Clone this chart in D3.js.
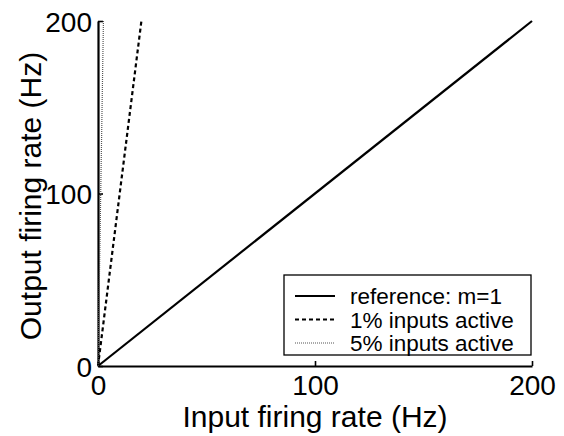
<!DOCTYPE html>
<html>
<head>
<meta charset="utf-8">
<script src="https://cdn.jsdelivr.net/npm/d3@7"></script>
<style>
  body { margin: 0; background: #fff; }
  svg { display: block; font-family: "Liberation Sans", Arial, sans-serif; }
</style>
</head>
<body>
<svg width="564" height="436"></svg>
<script>
// series: input rate (Hz) -> output rate (Hz)
const seriesNames = ['reference: m=1', '1% inputs active', '5% inputs active'];
const refInput = [0, 200];
const refOutput = [0, 200];
const onePctInput = [0, 20];
const onePctOutput = [0, 200];
const fivePctInput = [0, 2.5];
const fivePctOutput = [0, 200];
const xTicks = [0, 100, 200];
const yTicks = [0, 100, 200];

var svg = d3.select('svg');

var x = d3.scaleLinear().domain([0, 200]).range([98, 532]);
var y = d3.scaleLinear().domain([0, 200]).range([366, 21]);

var styles = [
  { width: 2.2, dash: null, color: '#000' },
  { width: 2.2, dash: '4,3', color: '#000' },
  { width: 1.2, dash: '1,1', color: '#555' }
];

var series = [
  d3.zip(refInput, refOutput),
  d3.zip(onePctInput, onePctOutput),
  d3.zip(fivePctInput, fivePctOutput)
];

var line = d3.line()
  .x(function (d) { return x(d[0]); })
  .y(function (d) { return y(d[1]); });

// axes (MATLAB style, ticks pointing in)
var xAxis = svg.append('g')
  .attr('transform', 'translate(0,' + y(0) + ')')
  .call(d3.axisBottom(x).tickValues(xTicks).tickSizeInner(-5).tickSizeOuter(0).tickPadding(10));

var yAxis = svg.append('g')
  .attr('transform', 'translate(' + x(0) + ',0)')
  .call(d3.axisLeft(y).tickValues(yTicks).tickSizeInner(-5).tickSizeOuter(0).tickPadding(6));

[xAxis, yAxis].forEach(function (g) {
  g.select('.domain').attr('stroke', '#000').attr('stroke-width', 2.2);
  g.selectAll('.tick line').attr('stroke', '#000').attr('stroke-width', 1.6);
  g.selectAll('.tick text')
    .attr('fill', '#000')
    .style('font-size', '28px')
    .style('font-family', '"Liberation Sans", Arial, sans-serif');
});
xAxis.selectAll('.tick text').attr('dy', '0.68em');
yAxis.selectAll('.tick text').attr('dy', '0.36em');

// data lines
svg.append('g')
  .selectAll('path')
  .data(series)
  .enter()
  .append('path')
  .attr('d', line)
  .attr('fill', 'none')
  .attr('stroke', function (d, i) { return styles[i].color; })
  .attr('stroke-width', function (d, i) { return styles[i].width; })
  .attr('stroke-dasharray', function (d, i) { return styles[i].dash; });

// axis labels
svg.append('text')
  .attr('x', 315)
  .attr('y', 427)
  .attr('text-anchor', 'middle')
  .style('font-size', '30px')
  .text('Input firing rate (Hz)');

svg.append('text')
  .attr('transform', 'translate(41,196) rotate(-90)')
  .attr('text-anchor', 'middle')
  .style('font-size', '30px')
  .text('Output firing rate (Hz)');

// legend
var legend = svg.append('g').attr('transform', 'translate(284,275)');
legend.append('rect')
  .attr('width', 247)
  .attr('height', 80)
  .attr('fill', '#fff')
  .attr('stroke', '#000')
  .attr('stroke-width', 1.3);

var rows = legend.selectAll('g.row')
  .data(seriesNames)
  .enter()
  .append('g')
  .attr('class', 'row')
  .attr('transform', function (d, i) { return 'translate(0,' + (21 + i * 23.5) + ')'; });

rows.append('line')
  .attr('x1', 11)
  .attr('x2', 51)
  .attr('stroke', function (d, i) { return styles[i].color; })
  .attr('stroke-width', function (d, i) { return styles[i].width; })
  .attr('stroke-dasharray', function (d, i) { return styles[i].dash; });

rows.append('text')
  .attr('x', 66)
  .attr('dy', '0.36em')
  .style('font-size', '22.5px')
  .text(function (d) { return d; });
</script>
</body>
</html>
